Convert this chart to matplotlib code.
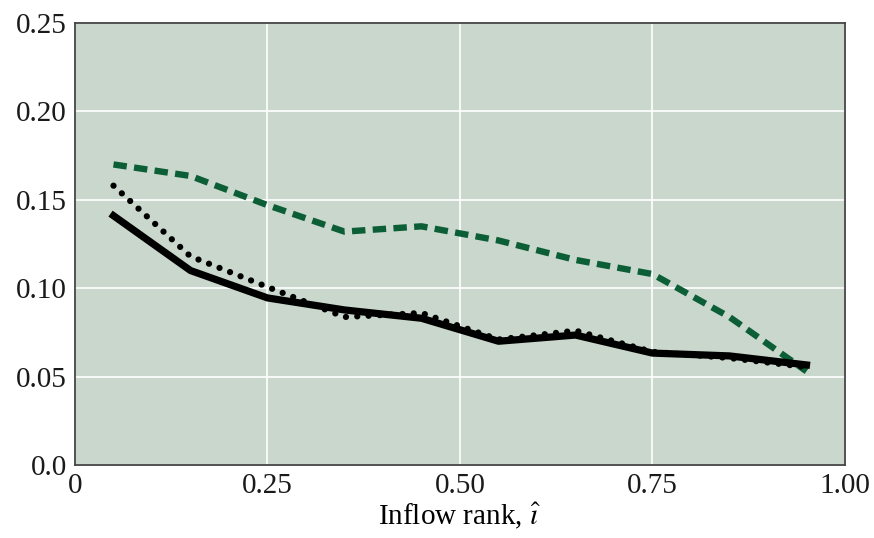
import matplotlib.pyplot as plt

plt.rcParams['font.family'] = ['Liberation Serif', 'DejaVu Serif']
plt.rcParams['mathtext.fontset'] = 'stix'

rank = [0.05, 0.15, 0.25, 0.35, 0.45, 0.55, 0.65, 0.75, 0.85, 0.95]
solid = [0.141, 0.110, 0.0945, 0.0877, 0.083, 0.070, 0.0735, 0.0633, 0.0617, 0.0566]
dotted = [0.158, 0.118, 0.1007, 0.0837, 0.086, 0.071, 0.076, 0.064, 0.0605, 0.0554]
green = [0.170, 0.1635, 0.147, 0.132, 0.135, 0.127, 0.116, 0.108, 0.0837, 0.053]

xticks = [0, 0.25, 0.5, 0.75, 1.0]
xlabels = ['0', '0.25', '0.50', '0.75', '1.00']
yticks = [0, 0.05, 0.10, 0.15, 0.20, 0.25]
ylabels = ['0.0', '0.05', '0.10', '0.15', '0.20', '0.25']

fig = plt.figure(figsize=(8.74, 5.38), dpi=100)
ax = fig.add_axes([0.0858, 0.1357, 0.881, 0.8215])
ax.set_facecolor('#c9d7cc')

ax.plot(rank, green, color='#0b5e35', lw=4.6, dashes=(2.1, 1.15), solid_joinstyle='round')
ax.plot(rank, solid, color='black', lw=5.2, solid_joinstyle='round')
ax.plot(rank, dotted, color='black', lw=4.5, linestyle=(0, (0.01, 1.8)), dash_capstyle='round')

ax.set_xlim(0, 1)
ax.set_ylim(0, 0.25)
ax.set_xticks(xticks, xlabels)
ax.set_yticks(yticks, ylabels)
ax.tick_params(length=0, labelsize=21, pad=6, colors='#1a1a1a')
ax.grid(True, color='white', lw=1.2)
ax.set_axisbelow(True)
for s in ax.spines.values():
    s.set_color('#444444')
    s.set_linewidth(1.3)
ax.set_xlabel(r'Inflow rank, $\hat{\imath}$', fontsize=21, labelpad=1)

fig.savefig('out.png', dpi=100)
